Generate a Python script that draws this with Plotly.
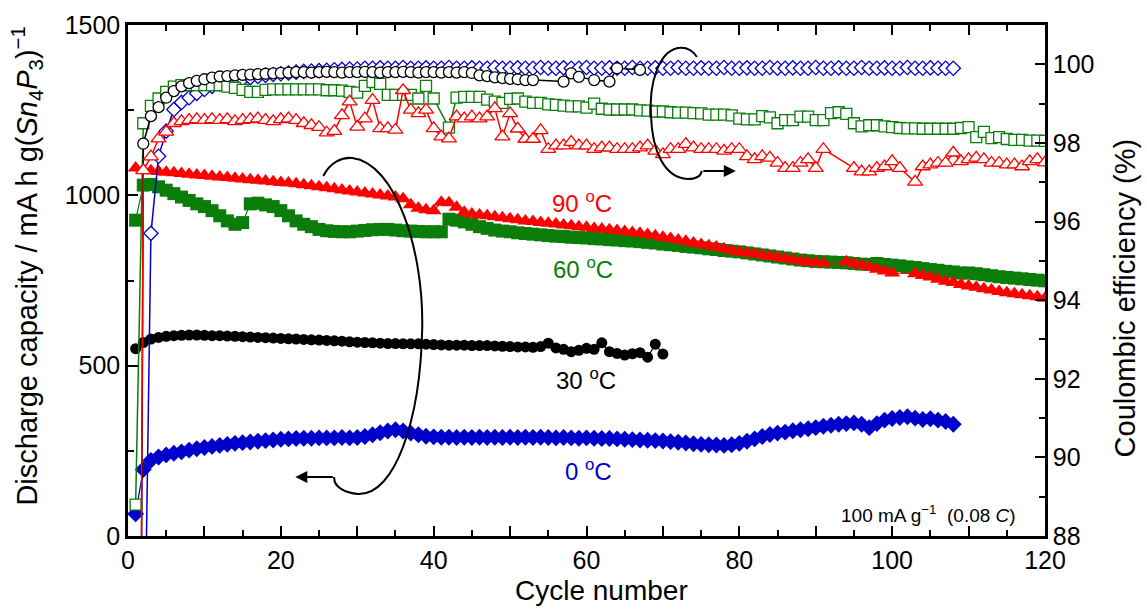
import plotly.graph_objects as go

# ---------------- data ----------------
cycles = list(range(1, 121))

cap_90C = [1080, 1074, 1072, 1070, 1068, 1066, 1064, 1062, 1060, 1058,
           1056, 1054, 1052, 1050, 1048, 1046, 1044, 1042, 1040, 1038,
           1036, 1034, 1031, 1028, 1025, 1022, 1019, 1016, 1013, 1010,
           1007, 1004, 1001, 998, 995, 990, 972, 962, 958, 955,
           980, 978, 965, 950, 945, 942, 940, 937, 934, 931,
           928, 925, 923, 920, 918, 916, 913, 911, 908, 906,
           903, 901, 899, 897, 894, 891, 889, 885, 881, 877,
           873, 869, 865, 860, 856, 852, 848, 843, 838, 834,
           831, 828, 824, 821, 818, 814, 811, 807, 804, 802,
           800, None, None, 805, 800, 795, 790, 783, 778, 772,
           None, None, 770, 765, 760, 754, 748, 744, 738, 734,
           730, 726, 722, 718, 714, 711, 708, 705, 702, 698]

cap_60C = [927, 1030, 1032, 1025, 1015, 1005, 995, 985, 975, 967,
           955, 940, 925, 915, 920, 975, 977, 972, 967, 955,
           940, 925, 915, 908, 900, 896, 894, 893, 893, 895,
           897, 899, 900, 900, 898, 896, 895, 894, 893, 893,
           893, 930, 927, 922, 915, 908, 903, 898, 895, 893,
           890, 888, 886, 884, 882, 880, 879, 877, 876, 875,
           873, 872, 870, 869, 867, 866, 864, 862, 860, 857,
           855, 853, 850, 848, 846, 843, 841, 838, 836, 834,
           831, 828, 825, 822, 819, 816, 813, 810, 808, 806,
           805, 804, 803, 802, 800, 798, 797, 800, 797, 795,
           793, 790, 788, 785, 782, 780, 777, 775, 772, 772,
           770, 767, 764, 761, 759, 757, 755, 753, 751, 749]

cap_30C = [550, 568, 578, 583, 586, 588, 589, 590, 590, 589,
           588, 588, 587, 586, 585, 584, 583, 582, 581, 580,
           579, 578, 577, 576, 575, 574, 573, 572, 570, 569,
           568, 567, 566, 565, 565, 564, 564, 564, 563, 562,
           561, 560, 560, 560, 559, 559, 559, 558, 557, 556,
           555, 555, 554, 556, 566, 552, 548, 541, 545, 551,
           548, 567, 541, 536, 531, 535, 538, 525, 563, 534]

cap_0C = [65, 195, 222, 232, 238, 243, 247, 252, 256, 260,
          263, 266, 269, 272, 274, 276, 278, 280, 282, 284,
          285, 286, 287, 287, 288, 288, 288, 289, 288, 289,
          292, 297, 303, 308, 312, 308, 302, 297, 293, 291,
          290, 290, 289, 290, 289, 290, 289, 290, 289, 290,
          289, 290, 289, 290, 289, 288, 289, 288, 287, 288,
          287, 286, 286, 285, 284, 283, 282, 281, 280, 279,
          277, 275, 273, 271, 269, 268, 267, 266, 268, 272,
          278, 285, 292, 298, 302, 305, 309, 312, 315, 318,
          322, 325, 328, 330, 332, 328, 318, 330, 340, 345,
          348, 350, 346, 342, 344, 340, 336, 328]

ce_90C = [60, 97.3, 97.65, 98.11, 98.28, 98.5, 98.55, 98.58, 98.6, 98.58,
          98.6, 98.58, 98.6, 98.55, 98.58, 98.6, 98.62, 98.58, 98.55, 98.6,
          98.62, 98.58, 98.5, 98.45, 98.4, 98.26, 98.3, 98.7, 99.05, 98.41,
          98.62, 99.09, 98.37, 98.37, 98.33, 99.34, 98.84, 98.75, 98.84, 98.37,
          98.16, 98.11, 98.67, 98.62, 98.67, 98.62, 98.67, 98.88, 98.16, 98.75,
          98.36, 98.1, 98.1, 98.32, 97.84, 97.93, 97.93, 98.02, 97.93, 97.93,
          97.84, 97.88, 97.88, 97.84, 97.84, 97.84, 97.88, 97.93, 97.8, 97.71,
          97.84, 97.84, 97.97, 97.88, 97.84, 97.84, 97.84, 97.8, 97.84, 97.84,
          97.66, 97.58, 97.66, 97.62, 97.49, 97.36, 97.36, 97.49, 97.58, 97.36,
          97.84, None, None, None, 97.36, 97.27, 97.27, 97.36, 97.4, 97.53,
          97.36, None, 97.01, 97.4, 97.45, 97.49, 97.49, 97.75, 97.53, 97.58,
          97.62, 97.58, 97.49, 97.49, 97.45, 97.45, 97.4, 97.53, 97.58, 97.5]

ce_60C = [88.8, 98.5, 98.94, 99.13, 99.3, 99.43, 99.47, 99.47, 99.47, 99.47,
          99.47, 99.47, 99.43, 99.4, 99.35, 99.3, 99.3, 99.35, 99.36, 99.36,
          99.36, 99.36, 99.36, 99.36, 99.36, 99.34, 99.34, 99.33, 99.3, 99.28,
          99.45, 99.55, 99.5, 99.22, 99.22, 99.22, 99.22, 99.13, 99.45, 99.13,
          None, 98.39, 99.15, 99.17, 99.17, 99.17, 99.1, 99.05, 99.02, 99.12,
          99.13, 99.05, 99.02, 99.02, 98.98, 98.97, 98.95, 98.93, 98.93, 98.9,
          99.0, 98.87, 98.85, 98.85, 98.85, 98.85, 98.83, 98.82, 98.8, 98.8,
          98.78, 98.77, 98.77, 98.76, 98.75, 98.72, 98.72, 98.72, 98.7, 98.62,
          98.6, 98.6, 98.68, 98.65, 98.5, 98.58, 98.58, 98.67, 98.67, 98.58,
          98.58, 98.76, 98.78, 98.74, 98.5, 98.42, 98.45, 98.45, 98.42, 98.4,
          98.38, 98.37, 98.37, 98.36, 98.36, 98.36, 98.36, 98.36, 98.38, 98.4,
          98.15, 98.28, 98.12, 98.15, 98.1, 98.08, 98.08, 98.06, 98.06, 98.05]

ce_30C = [50, 97.98, 98.68, 98.91, 99.15, 99.32, 99.44, 99.52, 99.58, 99.62,
          99.66, 99.69, 99.7, 99.72, 99.73, 99.74, 99.75, 99.76, 99.77, 99.78,
          99.79, 99.8, 99.8, 99.79, 99.8, 99.81, 99.8, 99.79, 99.8, 99.8,
          99.81, 99.8, 99.79, 99.8, 99.8, 99.81, 99.8, 99.79, 99.8, 99.8,
          99.79, 99.8, 99.79, 99.8, 99.78, 99.72, 99.7, 99.67, 99.65, 99.63,
          99.62, 99.6, 99.6, None, None, None, 99.56, 99.77, 99.68, None,
          99.6, None, 99.56, 99.9, None, None, 99.86, None, None, None]

ce_0C = [60, 82.4, 95.7, 97.66, 98.3, 98.85, 99.03, 99.15, 99.26, 99.36,
         99.44, 99.5, 99.55, 99.6, 99.63, 99.66, 99.69, 99.72, 99.74, 99.76,
         99.78, 99.8, 99.82, 99.83, 99.84, 99.85, 99.86, 99.87, 99.88, 99.88,
         99.9, 99.9, 99.91, 99.9, 99.9, 99.92, 99.9, 99.9, 99.91, 99.9,
         99.9, 99.92, 99.9, 99.9, 99.91, 99.9, 99.9, 99.92, 99.9, 99.9,
         99.91, 99.9, 99.9, 99.92, 99.9, 99.9, 99.91, 99.9, 99.9, 99.92,
         99.9, 99.9, 99.91, 99.9, 99.9, 99.92, 99.9, 99.9, 99.91, 99.9,
         99.9, 99.92, 99.9, 99.9, 99.91, 99.9, 99.9, 99.92, 99.9, 99.9,
         99.91, 99.9, 99.9, 99.92, 99.9, 99.9, 99.91, 99.9, 99.9, 99.92,
         99.9, 99.9, 99.91, 99.9, 99.9, 99.92, 99.9, 99.9, 99.91, 99.9,
         99.9, 99.92, 99.9, 99.9, 99.91, 99.9, 99.9, 99.9]

temp_labels = ["90 <sup>o</sup>C", "60 <sup>o</sup>C", "30 <sup>o</sup>C", "0 <sup>o</sup>C"]
x_label_vals = list(range(0, 121, 20))
x_major_vals = list(range(0, 121, 10))

RED = "#ff0000"
GREEN = "#0a7d0a"
BLACK = "#000000"
BLUE = "#0000cc"

FONT = "Liberation Sans, Arial, Helvetica, sans-serif"

fig = go.Figure()

# ---- Coulombic efficiency (open symbols, right axis) ----
def ce_trace(y, color, symbol, size):
    return go.Scatter(x=cycles[:len(y)], y=y, yaxis="y2", mode="lines+markers",
                      connectgaps=True,
                      line=dict(color=color, width=1.5),
                      marker=dict(symbol=symbol, size=size, color="white",
                                  line=dict(color=color, width=1.3)),
                      showlegend=False)

fig.add_trace(ce_trace(ce_0C, BLUE, "diamond", 11))
fig.add_trace(ce_trace(ce_60C, GREEN, "square", 11))
fig.add_trace(ce_trace(ce_30C, BLACK, "circle", 11))
fig.add_trace(ce_trace(ce_90C, RED, "triangle-up", 13))

# ---- Discharge capacity (filled symbols, left axis) ----
def cap_trace(y, color, symbol, size):
    return go.Scatter(x=cycles[:len(y)], y=y, yaxis="y", mode="lines+markers",
                      connectgaps=True,
                      line=dict(color=color, width=1.2),
                      marker=dict(symbol=symbol, size=size, color=color,
                                  line=dict(width=0)),
                      showlegend=False)

fig.add_trace(cap_trace(cap_0C, BLUE, "diamond", 13))
fig.add_trace(cap_trace(cap_30C, BLACK, "circle", 11))
fig.add_trace(cap_trace(cap_60C, GREEN, "square", 13))
fig.add_trace(cap_trace(cap_90C, RED, "triangle-up", 14))

# empty trace so the secondary (tick-only) x axis is drawn
fig.add_trace(go.Scatter(x=[], y=[], xaxis="x2", yaxis="y", showlegend=False,
                         hoverinfo="skip"))

# ---- geometry helpers (pixel -> paper) for decorations ----
L, R, T, B = 127.5, 1045.5, 25.0, 536.0
def px(x):
    return (x - L) / (R - L)
def py(y):
    return (B - y) / (B - T)

def path(points):
    s = "M {:.4f},{:.4f}".format(px(points[0][0]), py(points[0][1]))
    rest = points[1:]
    for i in range(0, len(rest), 3):
        (a, b), (c, d), (e, f) = rest[i], rest[i + 1], rest[i + 2]
        s += " C {:.4f},{:.4f} {:.4f},{:.4f} {:.4f},{:.4f}".format(px(a), py(b), px(c), py(d), px(e), py(f))
    return s

loop_left = [(323, 176),
             (330, 162), (342, 157), (352, 158),
             (395, 163), (424, 250), (422, 330),
             (420, 420), (395, 495), (358, 494),
             (345, 493), (333, 487), (334, 477)]
loop_right = [(697, 57),
              (692, 49), (685, 47), (678, 48),
              (658, 52), (649, 85), (651, 115),
              (652, 150), (664, 178), (688, 179),
              (696, 179), (701, 176), (702, 171)]

shapes = []
for pts in (loop_left, loop_right):
    shapes.append(dict(type="path", xref="paper", yref="paper", path=path(pts),
                       line=dict(color="black", width=2), layer="above"))

def note(xp, yp, text, size, color="black", angle=0, yanchor="middle"):
    return dict(x=px(xp), y=py(yp), xref="paper", yref="paper", text=text,
                showarrow=False, textangle=angle, xanchor="center", yanchor=yanchor,
                font=dict(size=size, color=color, family=FONT))

annotations = [
    # arrows
    dict(x=px(295), y=py(477), xref="paper", yref="paper", ax=39, ay=0, text="",
         showarrow=True, arrowhead=2, arrowsize=1.2, arrowwidth=2, arrowcolor="black"),
    dict(x=px(736), y=py(171), xref="paper", yref="paper", ax=-34, ay=0, text="",
         showarrow=True, arrowhead=2, arrowsize=1.2, arrowwidth=2, arrowcolor="black"),
    # temperature labels
    dict(x=59.4, y=980, xref="x", yref="y", text=temp_labels[0], showarrow=False,
         font=dict(size=24, color=RED, family=FONT)),
    dict(x=59.5, y=787, xref="x", yref="y", text=temp_labels[1], showarrow=False,
         font=dict(size=24, color=GREEN, family=FONT)),
    dict(x=59.9, y=461, xref="x", yref="y", text=temp_labels[2], showarrow=False,
         font=dict(size=24, color=BLACK, family=FONT)),
    dict(x=60.3, y=194, xref="x", yref="y", text=temp_labels[3], showarrow=False,
         font=dict(size=24, color=BLUE, family=FONT)),
    # current density note
    note(929, 514, "100 mA g<sup>\u22121</sup>  (0.08 <i>C</i>)", 19),
    # axis titles
    note(26, 266, "Discharge capacity / mA h g(<i>Sn</i><sub>4</sub><i>P</i><sub>3</sub>)<sup>\u22121</sup>",
         29, angle=-90),
    note(1126, 298, "Coulombic efficiency (%)", 29, angle=-90),
    note(602, 608, "Cycle number", 28, yanchor="bottom"),
]

tick_common = dict(ticks="inside", tickwidth=2, tickcolor="black", showgrid=False, zeroline=False)

fig.update_layout(
    width=1147, height=609,
    margin=dict(l=127.5, r=101.5, t=25, b=73),
    paper_bgcolor="white", plot_bgcolor="white",
    showlegend=False,
    font=dict(family=FONT, color="black", size=25),
    shapes=shapes, annotations=annotations,
    xaxis=dict(range=[0, 120], tickmode="array", tickvals=x_label_vals,
               ticklen=10, showline=True, linewidth=2.5, linecolor="black", mirror="ticks",
               minor=dict(tick0=0, dtick=5, ticks="inside", ticklen=6, tickwidth=2, tickcolor="black"),
               tickfont=dict(size=25, family=FONT), **tick_common),
    xaxis2=dict(range=[0, 120], overlaying="x", anchor="y", tickmode="array", tickvals=x_major_vals,
                ticklen=10, showline=False, mirror="ticks", showticklabels=False,
                **tick_common),
    yaxis=dict(range=[0, 1500], tickmode="linear", tick0=0, dtick=500,
               ticklen=10, showline=True, linewidth=2.5, linecolor="black",
               minor=dict(tick0=0, dtick=250, ticks="inside", ticklen=6, tickwidth=2, tickcolor="black"),
               tickfont=dict(size=25, family=FONT), **tick_common),
    yaxis2=dict(range=[88, 101], overlaying="y", side="right",
                tickmode="array", tickvals=list(range(88, 101, 2)),
                ticklen=10, showline=True, linewidth=2.5, linecolor="black",
                minor=dict(tick0=88, dtick=1, ticks="inside", ticklen=6, tickwidth=2, tickcolor="black"),
                tickfont=dict(size=25, family=FONT), **tick_common),
)

# remove the default page margin so the figure fills the window exactly; hide the mode bar
fig.write_html("out.html",
               config={"displayModeBar": False},
               post_script="document.body.style.margin='0';document.body.style.overflow='hidden';")
